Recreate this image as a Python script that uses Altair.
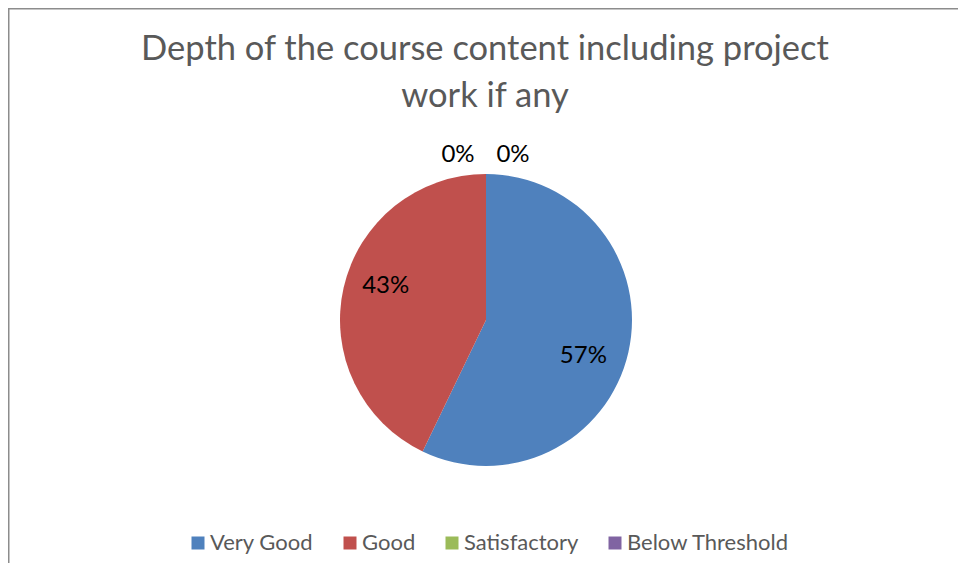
import altair as alt
import pandas as pd

categories = ["Very Good", "Good", "Satisfactory", "Below Threshold"]
counts = [4, 3, 0, 0]
labels = ["57%", "43%", "0%", "0%"]
colors = ["#4F81BD", "#C0504D", "#9BBB59", "#8064A2"]
order = [0, 1, 2, 3]
title_lines = ["Depth of the course content including project", "work if any"]

df = pd.DataFrame({"category": categories, "count": counts, "label": labels, "order": order})

W, H = 950, 555
CX, CY = 478, 312
R = 146
FONT = "Lato"
GREY = "#595959"

color = alt.Color(
    "category:N",
    scale=alt.Scale(domain=categories, range=colors),
    sort=categories,
    legend=alt.Legend(
        title=None,
        orient="none",
        legendX=179,
        legendY=524,
        direction="horizontal",
        columns=4,
        symbolType="square",
        symbolSize=169,
        symbolStrokeWidth=0,
        labelFont=FONT,
        labelFontSize=22,
        labelColor=GREY,
        labelOffset=1,
        columnPadding=25,
        padding=0,
        labelLimit=300,
    ),
)

pie = alt.Chart(df).mark_arc(outerRadius=R, stroke=None).encode(
    theta=alt.Theta("count:Q", stack=True),
    order=alt.Order("order:Q"),
    color=color,
    x=alt.value(CX), y=alt.value(CY),
)

def label_layer(cat, radius, dx, dy):
    return (
        alt.Chart(df)
        .transform_window(cum="sum(count)", sort=[alt.SortField("order")])
        .transform_calculate(mid="datum.cum - datum.count / 2")
        .transform_filter(alt.datum.category == cat)
        .mark_text(radius=radius, dx=dx, dy=dy, font=FONT, fontSize=24, color="black")
        .encode(
            theta=alt.Theta("mid:Q", stack=None),
            text="label:N",
            x=alt.value(CX), y=alt.value(CY),
        )
    )

t1 = label_layer("Very Good", 104, -4, 13)
t2 = label_layer("Good", 106, 3, -10)
t3 = label_layer("Satisfactory", 165, -28, 0)
t4 = label_layer("Below Threshold", 165, 27, 0)

frame = pd.DataFrame({"k": [0]})
top_rule = alt.Chart(frame).mark_rule(color="#8c8c8c", strokeWidth=1.5).encode(
    x=alt.value(0), x2=alt.value(W), y=alt.value(0.75)
)
left_rule = alt.Chart(frame).mark_rule(color="#8c8c8c", strokeWidth=1.5).encode(
    x=alt.value(0.75), y=alt.value(0), y2=alt.value(H)
)

chart = alt.layer(pie, t1, t2, t3, t4, top_rule, left_rule).properties(
    width=W, height=H,
    autosize=alt.AutoSizeParams(type="none"),
    padding=0,
    title=alt.TitleParams(
        text=title_lines,
        anchor="middle",
        orient="top",
        frame="group",
        baseline="top",
        offset=0,
        dy=107,
        dx=2,
        font=FONT,
        fontSize=34.5,
        fontWeight="normal",
        color=GREY,
        lineHeight=47,
    ),
).configure_view(stroke=None)

chart.save("out.html", embed_options={"renderer": "svg", "actions": False})
